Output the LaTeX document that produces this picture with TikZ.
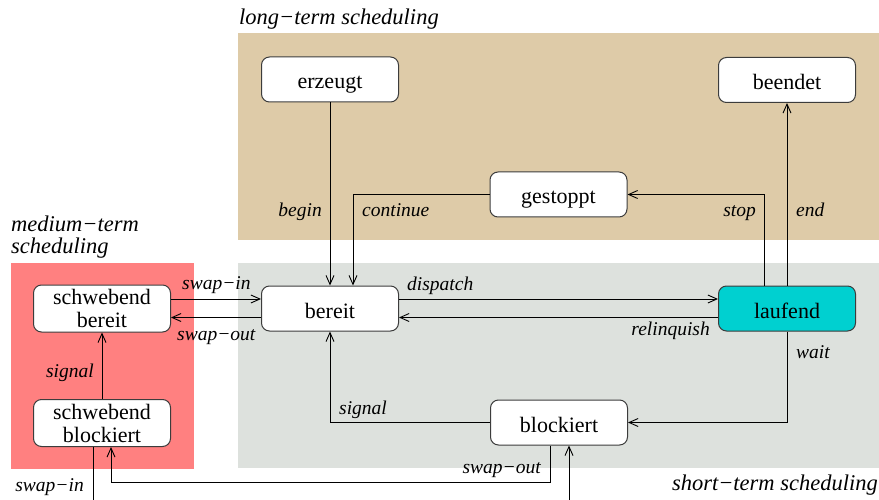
\documentclass[tikz,border=0pt]{standalone}
\usepackage{fontspec}
\setmainfont{Liberation Serif}
\usetikzlibrary{arrows.meta}
\definecolor{tanbg}{RGB}{222,203,168}
\definecolor{graybg}{RGB}{221,225,221}
\definecolor{redbg}{RGB}{255,128,128}
\definecolor{cyanbox}{RGB}{0,208,208}
\definecolor{boxline}{RGB}{60,60,60}
\tikzset{
  state/.style={draw=boxline, line width=1pt, fill=white, rounded corners=8pt,
    minimum width=137pt, minimum height=45pt, inner sep=2pt, align=center,
    font=\fontsize{22}{23}\selectfont},
  onel/.style={text height=19pt, text depth=0pt},
  lbl/.style={font=\fontsize{19.5}{21}\selectfont\itshape, inner sep=0pt},
  title/.style={font=\fontsize{22.5}{24}\selectfont\itshape, inner sep=0pt},
  arr/.style={draw=black, line width=0.9pt, -{Straight Barb[length=9pt,width=8pt,line width=0.9pt]}},
  conn/.style={draw=black, line width=0.9pt}
}
\begin{document}
\begin{tikzpicture}[x=1pt,y=-1pt]
\useasboundingbox (0,0) rectangle (879,500);
\clip (0,0) rectangle (879,500);
% regions
\fill[tanbg] (238,33) rectangle (879,240);
\fill[graybg] (238,263) rectangle (879,468);
\fill[redbg] (11,263) rectangle (194,469);
% titles
\node[title, anchor=base west] (tlong) at (239,25) {long−term scheduling};
\node[title, anchor=base west] (tmed1) at (11,232) {medium−term};
\node[title, anchor=base west] (tmed2) at (11,253) {scheduling};
\node[title, anchor=base east] (tshort) at (878,490) {short−term scheduling};
% states
\node[state, onel] (erz) at (330,79.5) {erzeugt};
\node[state, onel] (bee) at (787,80) {beendet};
\node[state, onel] (ges) at (558.5,194.5) {gestoppt};
\node[state, onel] (ber) at (330,308.5) {bereit};
\node[state, onel, fill=cyanbox] (lau) at (787,308.5) {laufend};
\node[state, onel] (blo) at (559,422.5) {blockiert};
\node[state, minimum height=47pt] (sb) at (102,308.5) {schwebend\\bereit};
\node[state, minimum height=47pt] (sbk) at (102,423) {schwebend\\blockiert};
% connectors
\draw[arr] (erz.south) -- (ber.north);
\draw[arr] (ges.west) -| ([xshift=23pt]ber.north);
\draw[arr] ([xshift=-23pt]lau.north) |- (ges.east);
\draw[arr] (lau.north) -- (bee.south);
\draw[arr] ([yshift=9.5pt]ber.east) -- ([yshift=9.5pt]lau.west);
\draw[arr] ([yshift=-9pt]lau.west) -- ([yshift=-9pt]ber.east);
\draw[arr] (lau.south) |- (blo.east);
\draw[arr] (blo.west) -| (ber.south);
\draw[arr] ([yshift=9.5pt]sb.east) -- ([yshift=9.5pt]ber.west);
\draw[arr] ([yshift=-9pt]ber.west) -- ([yshift=-9pt]sb.east);
\draw[arr] (sbk.north) -- (sb.south);
\draw[arr] ([xshift=-9pt]blo.south) -- ++(0,37) -| ([xshift=9pt]sbk.south);
\draw[arr] ([xshift=-9pt]sbk.south) -- ++(0,55) -| ([xshift=10pt]blo.south);
% labels
\node[lbl, anchor=base east] (lbegin) at (322,217) {begin};
\node[lbl, anchor=base west] (lcont) at (362,217) {continue};
\node[lbl, anchor=base east] (lstop) at (756,217) {stop};
\node[lbl, anchor=base west] (lend) at (796,217) {end};
\node[lbl, anchor=base west] (ldisp) at (407,290) {dispatch};
\node[lbl, anchor=base east] (lrel) at (710,335) {relinquish};
\node[lbl, anchor=base west] (lwait) at (796,358) {wait};
\node[lbl, anchor=base west] (lsig) at (339,414) {signal};
\node[lbl, anchor=base west] (lswin) at (182,289) {swap−in};
\node[lbl, anchor=base west] (lswout) at (177,340) {swap−out};
\node[lbl, anchor=base east] (lsig2) at (94,377) {signal};
\node[lbl, anchor=base east] (lswout2) at (541,473) {swap−out};
\node[lbl, anchor=base east] (lswin2) at (84,491) {swap−in};
\end{tikzpicture}
\end{document}
